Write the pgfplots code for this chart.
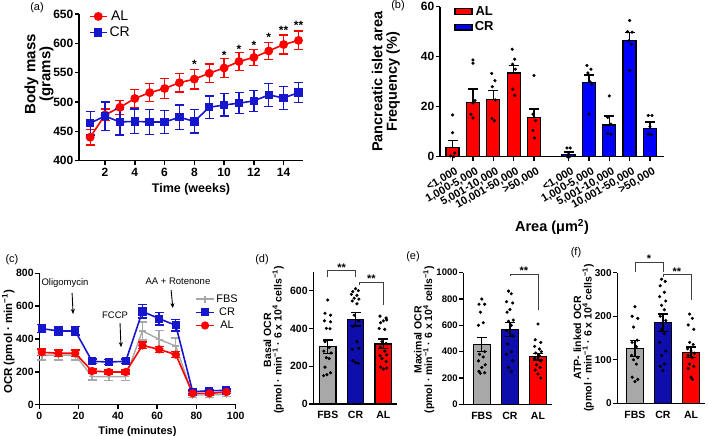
\documentclass[border=0pt]{standalone}
\usepackage{fontspec}
\setmainfont{Liberation Sans}
\usepackage{pgfplots}
\pgfplotsset{compat=1.18}
\usetikzlibrary{arrows.meta}

\definecolor{alred}{RGB}{255,0,0}
\definecolor{crblue}{RGB}{22,22,205}
\definecolor{bblue}{RGB}{0,0,255}
\definecolor{dblue}{RGB}{14,14,172}
\definecolor{fbsgray}{RGB}{168,168,168}

\newcommand{\fs}[1]{\fontsize{#1}{#1}\selectfont}

\pgfplotsset{
  gp/.style={
    scale only axis, anchor=south west, clip=false,
    axis x line*=bottom, axis y line*=left,
    axis line style={-, line width=1.4pt},
    tick align=outside, major tick length=4pt,
    every tick/.style={black, line width=1.4pt},
    yticklabel style={inner sep=1.5pt},
    /pgf/number format/assume math mode=true,
    /pgf/number format/1000 sep={},
    ylabel style={align=center},
  },
  ylab/.style 2 args={ylabel style={at={(axis description cs:#1,#2)}, anchor=center}},
  eb/.style={
    /pgfplots/error bars/y dir=both, /pgfplots/error bars/y explicit,
    /pgfplots/error bars/error bar style={line width=1.3pt, solid},
    /pgfplots/error bars/error mark options={rotate=90, mark size=#1, line width=1.3pt, solid}},
  ebup/.style={
    /pgfplots/error bars/y dir=plus, /pgfplots/error bars/y explicit,
    /pgfplots/error bars/error bar style={line width=1.3pt, black},
    /pgfplots/error bars/error mark options={rotate=90, mark size=#1, line width=1.3pt, black}},
  stars/.style={draw=none, mark=none, nodes near coords, point meta=explicit symbolic,
    every node near coord/.append style={anchor=center, inner sep=0pt, font=\bfseries\fs{#1}}},
  dots/.style={only marks, mark=*, mark size=1.4pt, black, forget plot},
  brk/.style={black!75, line width=0.7pt, mark=none, forget plot},
  barp/.style={ybar, bar shift=0pt, draw=black, line width=1.3pt},
  small3/.style={
    gp, xtick={1,2,3}, xticklabels={FBS,CR,AL},
    xtick style={draw=none},
    xticklabel style={font=\bfseries\fs{10.5}},
    ylabel style={font=\bfseries\fs{10.5}},
  },
}

\begin{document}
\begin{tikzpicture}[x=1pt,y=1pt]
\path[use as bounding box] (0,0) rectangle (709,436);

% ---------------- (a) body mass
\begin{axis}[gp, at={(79pt,275.3pt)}, width=224pt, height=146.7pt,
  xmin=0.25, xmax=15.3, ymin=400, ymax=650,
  xtick={2,4,...,14}, ytick={400,450,...,650},
  tick label style={font=\bfseries\fs{12}},
  xlabel={Time (weeks)}, xlabel style={font=\bfseries\fs{12.5}},
  ylabel={Body mass\\(grams)}, ylabel style={font=\bfseries\fs{15}},
  ylab={-0.178}{0.59},
  legend style={at={(0.03,1.05)}, anchor=north west, draw=none, fill=none,
    font=\fs{14}, row sep=1pt},
  legend image post style={line width=1.6pt},
]
\addplot[alred, line width=1.6pt, mark=*, mark size=3.6pt, eb=4.5pt] coordinates {
  (1,440) +- (0,13) (2,478) +- (0,10) (3,491) +- (0,12) (4,506) +- (0,15)
  (5,516) +- (0,15) (6,523) +- (0,17) (7,533) +- (0,16) (8,539) +- (0,17)
  (9,549) +- (0,16) (10,558) +- (0,16) (11,569) +- (0,15) (12,576) +- (0,14)
  (13,587) +- (0,15) (14,598) +- (0,16) (15,605) +- (0,16)
};
\addlegendentry{AL}
\addplot[crblue, line width=1.6pt, mark=square*, mark size=3.4pt, eb=4.5pt] coordinates {
  (1,464) +- (0,20) (2,476) +- (0,24) (3,466) +- (0,22) (4,467) +- (0,21)
  (5,466) +- (0,21) (6,466) +- (0,20) (7,474) +- (0,21) (8,467) +- (0,20)
  (9,491) +- (0,19) (10,495) +- (0,19) (11,498) +- (0,18) (12,502) +- (0,18)
  (13,512) +- (0,20) (14,507) +- (0,20) (15,516) +- (0,17)
};
\addlegendentry{CR}
\addplot[stars=12, forget plot] coordinates {
  (8,564)[*] (10,580)[*] (11,590)[*] (12,596)[*] (13,610)[*] (14,622)[**] (15,630)[**]
};
\end{axis}

% ---------------- (b) islet area
\begin{axis}[gp, at={(440pt,279.3pt)}, width=224pt, height=150pt,
  xmin=-0.62, xmax=10.39, ymin=0, ymax=60, ytick={0,20,40,60},
  xtick={0,1,2,3,4,5.7,6.7,7.7,8.7,9.7},
  xticklabels={{<1,000},{1,000-5,000},{5,001-10,000},{10,001-50,000},{>50,000},
               {<1,000},{1,000-5,000},{5,001-10,000},{10,001-50,000},{>50,000}},
  yticklabel style={font=\bfseries\fs{12}},
  xticklabel style={font=\bfseries\fs{11}, rotate=30, anchor=north east, inner sep=1pt, yshift=-5pt},
  ylabel={Pancreatic islet area\\Frequency (\%)}, ylabel style={font=\bfseries\fs{14.5}},
  ylab={-0.242}{0.5},
  legend style={at={(0.05,1.03)}, anchor=north west, draw=none, fill=none,
    font=\bfseries\fs{13}, row sep=1pt},
]
\addplot[barp, bar width=13pt, fill=alred, area legend, ebup=5pt] coordinates {
  (0,3.6) +- (0,2.8) (1,21.7) +- (0,5.4) (2,23.0) +- (0,3.4) (3,33.5) +- (0,2.9) (4,15.7) +- (0,3.4)
};
\addlegendentry{AL}
\addplot[barp, bar width=13pt, fill=bblue, area legend, ebup=5pt] coordinates {
  (5.7,0.9) +- (0,1.0) (6.7,29.6) +- (0,3.1) (7.7,12.7) +- (0,3.6) (8.7,46.5) +- (0,3.1) (9.7,11.3) +- (0,2.6)
};
\addlegendentry{CR}
\addplot[dots] coordinates {
  (0,16.7) (0,9.6) (0.1,1.5) (-0.1,0.3) (0.05,0)
  (1,38.7) (1,37.4) (1,21.5) (1,15.5) (1.1,22.5) (0.9,17)
  (1.92,33.3) (2.08,30.4) (1.95,28) (2.1,22.7) (1.93,15.3) (2.05,14.4)
  (2.93,43) (3.05,39) (2.95,37) (3.08,35) (2.95,27) (3.05,24.5)
  (4,32.5) (3.95,17) (4.08,14.5) (3.95,10.5) (4.02,7.5)
  (5.62,3.5) (5.78,3.5) (5.7,1) (5.65,0) (5.75,0)
  (6.6,36.5) (6.8,35) (6.65,33.5) (6.75,30) (6.85,29) (6.7,17)
  (7.7,24.3) (7.62,15.7) (7.78,13) (7.62,9.3) (7.78,9)
  (8.7,54.5) (8.6,50) (8.82,49.8) (8.65,46.3) (8.78,45) (8.7,34.5)
  (9.62,16.5) (9.8,16.5) (9.7,12) (9.62,9) (9.76,8.7)
};
\node[font=\bfseries\fs{14.5}, anchor=center] at (rel axis cs:0.5,-0.47) {Area (μm\textsuperscript{2})};
\end{axis}

% ---------------- (c) OCR time course
\begin{axis}[gp, at={(39.3pt,31.3pt)}, width=196.4pt, height=131.4pt,
  xmin=0, xmax=100, ymin=0, ymax=800,
  xtick={0,20,...,100}, ytick={0,200,...,800},
  tick label style={font=\bfseries\fs{10.5}},
  xlabel={Time (minutes)}, xlabel style={font=\bfseries\fs{11}},
  ylabel={OCR (pmol · min\textsuperscript{−1})}, ylabel style={font=\bfseries\fs{11.5}},
  ylab={-0.158}{0.48},
  legend style={at={(0.78,0.87)}, anchor=north west, draw=none, fill=none,
    font=\fs{11}, row sep=0pt},
  legend image post style={line width=1.6pt},
]
\addplot[fbsgray, line width=1.4pt, mark=+, mark size=3.5pt, mark options={line width=1.4pt}, eb=4.5pt] coordinates {
  (1.3,302) +- (0,30) (9.8,302) +- (0,30) (18.3,302) +- (0,30)
  (26.9,171) +- (0,20) (35.4,171) +- (0,22) (44.0,171) +- (0,22)
  (52.5,449) +- (0,55) (61.0,398) +- (0,55) (69.5,357) +- (0,50)
  (78.1,59) +- (0,15) (86.6,59) +- (0,15) (95.2,63) +- (0,15)
};
\addlegendentry{FBS}
\addplot[crblue, line width=1.6pt, mark=square*, mark size=3.3pt, eb=4.5pt] coordinates {
  (1.3,463) +- (0,25) (9.8,449) +- (0,25) (18.3,449) +- (0,25)
  (26.9,264) +- (0,15) (35.4,260) +- (0,15) (44.0,264) +- (0,15)
  (52.5,568) +- (0,40) (61.0,524) +- (0,38) (69.5,483) +- (0,35)
  (78.1,79) +- (0,10) (86.6,85) +- (0,8) (95.2,87) +- (0,8)
};
\addlegendentry{CR}
\addplot[alred, line width=1.6pt, mark=*, mark size=3.3pt, eb=4.5pt] coordinates {
  (1.3,319) +- (0,20) (9.8,313) +- (0,20) (18.3,313) +- (0,20)
  (26.9,205) +- (0,12) (35.4,199) +- (0,12) (44.0,199) +- (0,12)
  (52.5,361) +- (0,20) (61.0,337) +- (0,18) (69.5,305) +- (0,17)
  (78.1,69) +- (0,10) (86.6,69) +- (0,10) (95.2,77) +- (0,8)
};
\addlegendentry{AL}
\node[font=\fs{9.5}] at (axis cs:13.1,741) {Oligomycin};
\node[font=\fs{9.5}] at (axis cs:38.6,546) {FCCP};
\node[font=\fs{9.5}] at (axis cs:70.6,753) {AA + Rotenone};
\draw[-{Stealth[length=5pt,width=4pt]}, line width=0.9pt] (axis cs:16.7,680) -- (axis cs:17.2,552);
\draw[-{Stealth[length=5pt,width=4pt]}, line width=0.9pt] (axis cs:41.1,497) -- (axis cs:41.6,350);
\draw[-{Stealth[length=5pt,width=4pt]}, line width=0.9pt] (axis cs:67.1,698) -- (axis cs:68,588);
\end{axis}

% ---------------- (d) basal OCR
\begin{axis}[small3, at={(313.3pt,32pt)}, width=83.4pt, height=132.3pt,
  xmin=0.48, xmax=3.48, ymin=0, ymax=700, ytick={0,200,400,600},
  yticklabel style={font=\bfseries\fs{10.5}},
  ylabel={Basal OCR\\(pmol · min\textsuperscript{−1} · 6 x 10\textsuperscript{4} cells\textsuperscript{−1})},
  ylab={-0.475}{0.484},
]
\addplot[barp, bar width=16.5pt, fill=fbsgray, eb=5pt] coordinates {(1,303) +- (0,35)};
\addplot[barp, bar width=16.5pt, fill=dblue, eb=5pt] coordinates {(2,448) +- (0,35)};
\addplot[barp, bar width=16.5pt, fill=alred, eb=5pt] coordinates {(3,318) +- (0,26)};
\addplot[dots] coordinates {
  (1.0,550) (0.9,480) (1.1,470) (0.88,440) (1.1,435) (0.95,400) (1.08,398) (0.9,330)
  (1.05,300) (0.86,280) (1.12,270) (0.95,245) (1.05,240) (0.9,195) (1.1,165) (0.97,155) (0.85,150)
  (2.0,610) (1.9,595) (2.1,600) (1.85,580) (2.05,575) (1.95,560) (2.12,555) (1.88,545)
  (2.05,530) (1.95,470) (2.1,440) (1.9,410) (2.05,330) (1.88,290) (2.12,295) (1.9,230) (2.0,220) (2.1,215)
  (2.88,465) (3.1,455) (3.0,440) (2.9,430) (3.12,445) (2.85,400) (3.05,395) (2.95,330)
  (3.1,320) (2.9,300) (3.05,280) (2.88,255) (3.12,260) (2.95,240) (3.1,225) (2.9,195) (3.0,185) (3.12,190)
};
\addplot[brk] coordinates {(1,673) (1,705) (2,705) (2,673)};
\addplot[brk] coordinates {(2.14,630) (2.14,644) (3,644) (3,524)};
\addplot[stars=11, forget plot] coordinates {(1.5,723)[**] (2.57,662)[**]};
\end{axis}

% ---------------- (e) maximal OCR
\begin{axis}[small3, at={(463.3pt,31.7pt)}, width=88.7pt, height=131.6pt,
  xmin=0.34, xmax=3.5, ymin=0, ymax=1000, ytick={0,200,...,1000},
  yticklabel style={font=\bfseries\fs{9.5}},
  ylabel={Maximal OCR\\(pmol · min\textsuperscript{−1} · 6 x 10\textsuperscript{4} cells\textsuperscript{−1})},
  ylab={-0.44}{0.49},
]
\addplot[barp, bar width=17pt, fill=fbsgray, eb=5pt] coordinates {(1,456) +- (0,53)};
\addplot[barp, bar width=17pt, fill=dblue, eb=5pt] coordinates {(2,570) +- (0,53)};
\addplot[barp, bar width=17pt, fill=alred, eb=5pt] coordinates {(3,362) +- (0,25)};
\addplot[dots] coordinates {
  (1.0,800) (0.9,760) (1.1,760) (0.95,700) (1.05,620) (0.88,600) (1.1,400) (0.92,380)
  (1.05,360) (0.88,330) (1.12,300) (1.0,280) (0.9,250) (1.1,240) (0.95,235)
  (1.95,860) (2.05,840) (1.88,780) (2.1,770) (2.0,720) (1.9,700) (2.12,640) (1.95,630)
  (2.05,600) (1.88,560) (2.1,520) (1.92,460) (2.05,400) (1.88,380) (2.1,330) (1.95,280) (2.05,250)
  (3.0,610) (2.9,490) (3.1,470) (2.88,440) (3.05,420) (3.12,400) (2.92,390) (3.05,370)
  (2.88,350) (3.1,330) (2.95,300) (3.08,280) (2.9,260) (3.0,230) (3.1,200)
};
\addplot[brk] coordinates {(2,975) (2,990) (3,990) (3,717)};
\addplot[stars=11, forget plot] coordinates {(2.5,1014)[**]};
\end{axis}

% ---------------- (f) ATP-linked OCR
\begin{axis}[small3, at={(617.3pt,32.7pt)}, width=87.7pt, height=130.6pt,
  xmin=0.37, xmax=3.5, ymin=0, ymax=300, ytick={0,100,200,300},
  yticklabel style={font=\bfseries\fs{10}},
  ylabel={ATP- linked OCR\\(pmol · min\textsuperscript{−1} · 6 x 10\textsuperscript{4} cells\textsuperscript{−1})},
  ylab={-0.385}{0.5},
]
\addplot[barp, bar width=17pt, fill=fbsgray, eb=5pt] coordinates {(1,126) +- (0,19)};
\addplot[barp, bar width=17pt, fill=dblue, eb=5pt] coordinates {(2,185) +- (0,20)};
\addplot[barp, bar width=17pt, fill=alred, eb=5pt] coordinates {(3,117) +- (0,12)};
\addplot[dots] coordinates {
  (1.0,222) (0.9,200) (1.1,195) (0.95,175) (1.08,145) (0.9,140) (1.05,130) (0.88,110)
  (1.1,105) (0.95,100) (1.05,90) (0.9,60) (1.1,55) (1.0,50)
  (1.95,285) (2.08,280) (1.9,270) (2.05,255) (1.88,245) (2.1,235) (1.95,225) (2.05,215)
  (1.9,200) (2.1,190) (1.95,170) (2.05,160) (1.88,140) (2.1,120) (1.95,110) (2.05,90) (1.9,85) (2.0,75)
  (2.95,205) (3.05,195) (2.9,180) (3.1,170) (2.95,140) (3.08,135) (2.88,125) (3.0,120)
  (3.12,115) (2.9,110) (3.05,105) (2.95,90) (3.1,85) (2.9,80) (3.0,60) (3.05,55)
};
\addplot[brk] coordinates {(1,302) (1,323) (2,323) (2,302)};
\addplot[brk] coordinates {(2,290) (2,296.5) (3,296.5) (3,238)};
\addplot[stars=11, forget plot] coordinates {(1.5,333)[*] (2.5,302)[**]};
\end{axis}

% panel letters
\node[font=\fs{11}] at (37,428) {(a)};
\node[font=\fs{11}] at (398,430) {(b)};
\node[font=\fs{11}] at (12,176) {(c)};
\node[font=\fs{11}] at (262,176) {(d)};
\node[font=\fs{11}] at (413,179) {(e)};
\node[font=\fs{11}] at (576,183) {(f)};
\end{tikzpicture}
\end{document}
